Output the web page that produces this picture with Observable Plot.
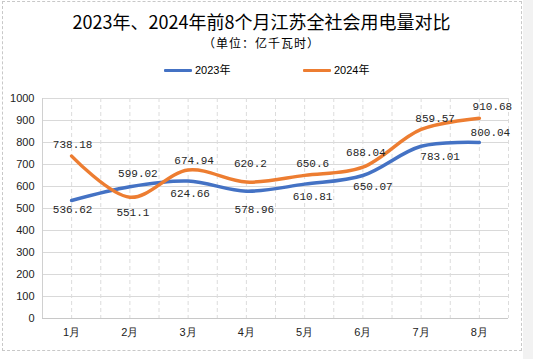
<!DOCTYPE html>
<html>
<head>
<meta charset="utf-8">
<script src="https://cdn.jsdelivr.net/npm/d3@7"></script>
<script src="https://cdn.jsdelivr.net/npm/@observablehq/plot@0.6"></script>
<style>
  html, body { margin: 0; padding: 0; background: #fff; }
  #wrap { position: relative; width: 533px; height: 359px; overflow: hidden; background: #fff; font-family: "Noto Sans CJK SC", "Liberation Sans", sans-serif; }
  #strip { position: absolute; left: 523px; top: 0; width: 10px; height: 359px; background: #f2f2f2; }
  #border { position: absolute; left: 2px; top: 1px; width: 518px; height: 348px; border: 1px dashed #c8c8c8; }
  #title { position: absolute; left: 0; width: 523px; top: 8px; text-align: center; font-size: 18px; line-height: 26px; color: #000; }
  #subtitle { position: absolute; left: 0; width: 523px; top: 35px; text-align: center; font-size: 12px; line-height: 16px; color: #000; letter-spacing: 1px; }
  .leg { position: absolute; top: 62px; font-size: 11px; line-height: 16px; color: #000; font-family: "Liberation Sans", "Noto Sans CJK SC", sans-serif; display: flex; align-items: center; }
  .leg span.sw { display: inline-block; width: 28px; height: 3px; margin-right: 3px; border-radius: 1px; }
  #chart { position: absolute; left: 0; top: 80px; }
</style>
</head>
<body>
<div id="wrap">
  <div id="strip"></div>
  <div id="border"></div>
  <div id="title"></div>
  <div id="subtitle"></div>
  <div id="leg1" class="leg" style="left:164px"></div>
  <div id="leg2" class="leg" style="left:303px"></div>
  <div id="chart"></div>
</div>
<script>
// ---- data ----
const months = ["1月", "2月", "3月", "4月", "5月", "6月", "7月", "8月"];
const series2023 = [536.62, 599.02, 624.66, 578.96, 610.81, 650.07, 783.01, 800.04];
const series2024 = [738.18, 551.1, 674.94, 620.2, 650.6, 688.04, 859.57, 910.68];
const seriesNames = ["2023年", "2024年"];
const yTicks = [0, 100, 200, 300, 400, 500, 600, 700, 800, 900, 1000];
const titleText = "2023年、2024年前8个月江苏全社会用电量对比";
const subtitleText = "（单位：亿千瓦时）";

// ---- styling / layout (not data) ----
const colors = ["#4472C4", "#ED7D31"];
const nudge2023 = [[1, 9], [8, -13], [2, 12], [8, 18], [8, 12], [10, 11], [19, 10], [11, -10]];
const nudge2024 = [[1, -12], [3, 15], [6, -10], [4, -19], [8, -12], [3, -15], [14, -11], [13, -12]];

document.getElementById("title").textContent = titleText;
document.getElementById("subtitle").textContent = subtitleText;
[["leg1", 0], ["leg2", 1]].forEach(([id, i]) => {
  const el = document.getElementById(id);
  el.innerHTML = `<span class="sw" style="background:${colors[i]}"></span>`;
  el.appendChild(document.createTextNode(seriesNames[i]));
});

const rows = [];
months.forEach((m, i) => {
  rows.push({idx: i + 1, month: m, value: series2023[i], series: seriesNames[0], nudge: nudge2023[i]});
});
months.forEach((m, i) => {
  rows.push({idx: i + 1, month: m, value: series2024[i], series: seriesNames[1], nudge: nudge2024[i]});
});

const gridX = d3.range(0.5, months.length + 0.51, 0.5);

const labelMarks = rows.map(r => Plot.text([r], {
  x: "idx", y: "value", text: d => String(d.value),
  dx: r.nudge[0], dy: r.nudge[1],
  fill: "#262626", fontSize: 11,
  fontFamily: "Liberation Mono, DejaVu Sans Mono, monospace"
}));

const chart = Plot.plot({
  width: 533,
  height: 279,
  marginTop: 18,
  marginBottom: 41,
  marginLeft: 42,
  marginRight: 25,
  style: {fontFamily: "Liberation Sans, Arial, sans-serif", fontSize: "11px", color: "#222", background: "transparent"},
  x: {domain: [0.5, months.length + 0.5], axis: null},
  y: {domain: [0, 1000], axis: null},
  color: {domain: seriesNames, range: colors},
  marks: [
    Plot.ruleY(yTicks, {stroke: "#d9d9d9", strokeWidth: 1}),
    Plot.ruleX(gridX, {stroke: "#dcdcdc", strokeWidth: 1, strokeDasharray: "4,3"}),
    Plot.ruleX([0.5], {stroke: "#d0d0d0", strokeWidth: 1}),
    Plot.ruleY([0], {stroke: "#c8c8c8", strokeWidth: 1.2}),
    Plot.axisY(yTicks, {tickSize: 0, tickPadding: 8, fontSize: 11, fill: "#222", label: null, tickFormat: d => String(d)}),
    Plot.axisX(d3.range(1, months.length + 1), {tickSize: 0, tickPadding: 10, fontSize: 11, fill: "#222", label: null, tickFormat: d => months[d - 1]}),
    Plot.line(rows, {x: "idx", y: "value", z: "series", stroke: "series", strokeWidth: 3.5, curve: "catmull-rom"}),
    ...labelMarks
  ]
});
document.getElementById("chart").appendChild(chart);
</script>
</body>
</html>
